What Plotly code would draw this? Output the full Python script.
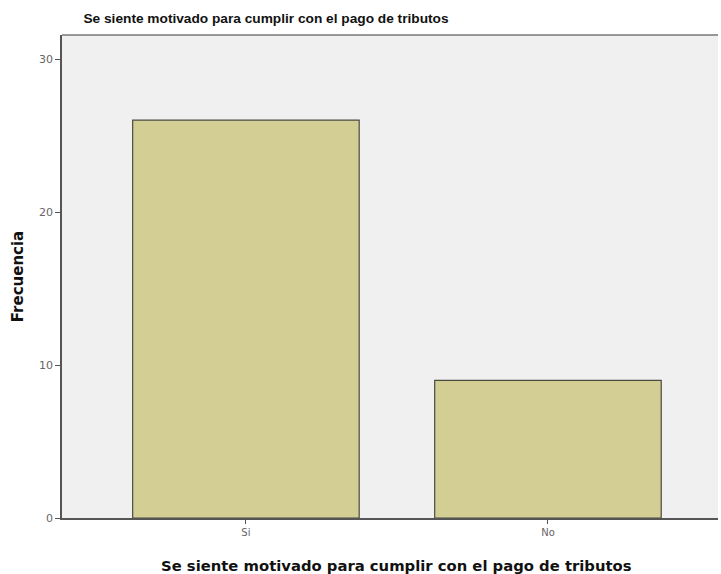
import plotly.graph_objects as go

categories = ["Si", "No"]
frecuencia = [26, 9]
y_ticks = [0, 10, 20, 30]

title_text = "Se siente motivado para cumplir con el pago de tributos"

W, H = 721, 574
L, T, B, R = 62, 35, 56, 3
PW, PH = W - L - R, H - T - B

fig = go.Figure()
fig.add_trace(go.Bar(
    x=categories,
    y=frecuencia,
    width=0.75,
    marker=dict(color="#D3CE94", line=dict(color="#4a4a40", width=1.2)),
))

fig.update_layout(
    width=W, height=H,
    margin=dict(l=L, r=R, t=T, b=B),
    paper_bgcolor="white",
    plot_bgcolor="#F0F0F0",
    showlegend=False,
    font=dict(family="Liberation Sans, Arial, sans-serif", color="#333333"),
    title=dict(
        text="<b>" + title_text + "</b>",
        x=(266 - L) / PW, xanchor="center", xref="paper",
        y=1 - 18 / H, yanchor="middle",
        font=dict(size=13.7, color="#111111"),
    ),
    annotations=[dict(
        text="<b>" + title_text + "</b>",
        xref="paper", yref="paper",
        x=(397 - L) / PW, y=-(565 - (H - B)) / PH,
        xanchor="center", yanchor="middle", showarrow=False,
        font=dict(size=14.8, color="#111111", family="DejaVu Sans"),
    )],
    shapes=[dict(
        type="line", xref="paper", yref="paper",
        x0=0, x1=1, y0=1, y1=1,
        line=dict(color="#777777", width=1.5),
    )],
)

fig.update_xaxes(
    range=[-0.609, 1.563],
    showline=True, linecolor="#555555", linewidth=1.5,
    ticks="outside", ticklen=4, tickcolor="#555555",
    tickfont=dict(size=10, color="#666666", family="DejaVu Sans"),
    showgrid=False, zeroline=False,
)
fig.update_yaxes(
    range=[0, 31.57],
    tickvals=y_ticks,
    showline=True, linecolor="#555555", linewidth=1.5,
    ticks="outside", ticklen=5, tickcolor="#555555",
    tickfont=dict(size=11, color="#666666", family="DejaVu Sans"),
    title=dict(text="<b>Frecuencia</b>",
               font=dict(size=15, color="#111111", family="DejaVu Sans"), standoff=12),
    showgrid=False, zeroline=False,
)

fig.write_html(
    "out.html",
    config={"displayModeBar": False},
    post_script="document.body.style.margin='0';document.body.style.overflow='hidden';",
)
